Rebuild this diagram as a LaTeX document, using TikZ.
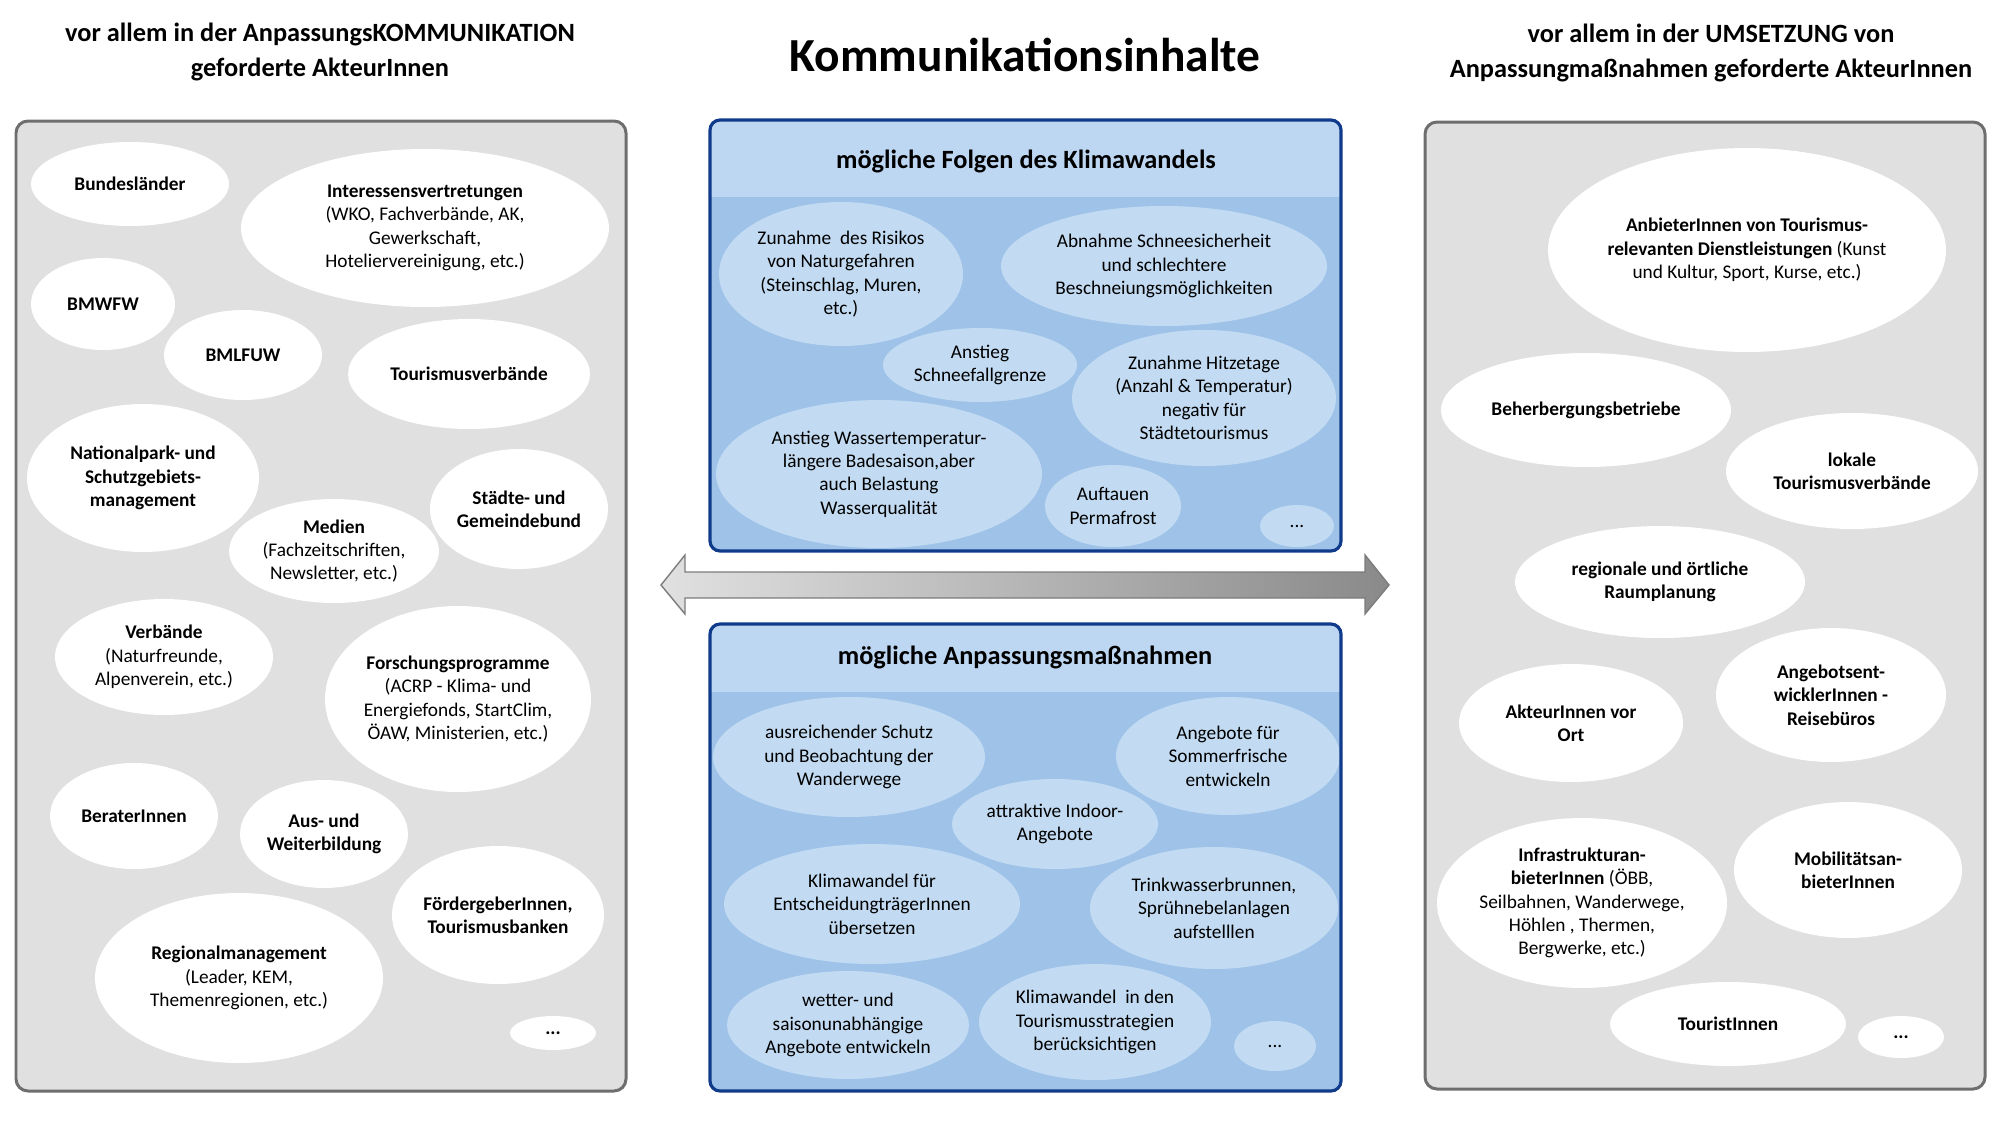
\documentclass[tikz,border=0pt]{standalone}
\usepackage{fontspec}
\setmainfont{Carlito}
\usepackage{tikz}
\usetikzlibrary{shapes.geometric}
\definecolor{kastengrau}{rgb}{0.88,0.88,0.88}
\definecolor{rahmengrau}{rgb}{0.43,0.43,0.43}
\definecolor{rahmenblau}{rgb}{0.06,0.23,0.54}
\definecolor{kopfblau}{rgb}{0.74,0.84,0.95}
\definecolor{feldblau}{rgb}{0.62,0.76,0.91}
\definecolor{blasenblau}{rgb}{0.76,0.86,0.95}
\definecolor{pfeilhell}{rgb}{0.88,0.88,0.88}
\definecolor{pfeildunkel}{rgb}{0.54,0.54,0.54}
\tikzset{
  kasten/.style={
    rounded corners=0.24cm,
    draw=rahmengrau,
    fill=kastengrau,
    line width=1.7pt
  },
  feldrand/.style={
    rounded corners=0.2cm,
    draw=rahmenblau,
    line width=1.8pt
  },
  blase/.style={
    ellipse,
    fill=white,
    inner sep=-20pt,
    align=center,
    font=\fontsize{11}{13.3}\selectfont\bfseries
  },
  blaseblau/.style={
    blase,
    fill=blasenblau,
    font=\fontsize{11}{13.3}\selectfont
  },
  kopf/.style={
    align=center,
    font=\fontsize{15}{19.8}\selectfont\bfseries
  },
  feldtitel/.style={
    font=\fontsize{15}{18}\selectfont\bfseries
  },
  pfeil/.style={
    draw=pfeildunkel!90!black,
    line width=0.8pt,
    left color=pfeilhell,
    right color=pfeildunkel
  }
}

\begin{document}
\begin{tikzpicture}[x=0.02cm, y=-0.02cm]
\useasboundingbox (0,0) rectangle (2000,1130);

% Ueberschriften
\node[kopf] (kopflinks) at (320,52) {vor allem in der AnpassungsKOMMUNIKATION\\geforderte AkteurInnen};
\node[font=\fontsize{27}{32}\selectfont\bfseries] (titel) at (1025,55) {Kommunikationsinhalte};
\node[kopf] (kopfrechts) at (1711,53) {vor allem in der UMSETZUNG von\\Anpassungmaßnahmen geforderte AkteurInnen};

% linke Spalte
\draw[kasten] (16,121) rectangle (626,1091);
\node[blase, minimum width=3.96cm, minimum height=1.68cm] (laender) at (130,184) {Bundesländer};
\node[blase, minimum width=7.36cm, minimum height=3.16cm] (interessen) at (425,228) {Interessensvertretungen\\\mdseries(WKO, Fachverbände, AK,\\\mdseries Gewerkschaft,\\\mdseries Hoteliervereinigung, etc.)};
\node[blase, minimum width=2.88cm, minimum height=1.84cm] (bmwfw) at (103,304) {BMWFW};
\node[blase, minimum width=3.16cm, minimum height=1.80cm] (bmlfuw) at (243,355) {BMLFUW};
\node[blase, minimum width=4.84cm, minimum height=2.20cm] (tvb) at (469,374) {Tourismusverbände};
\node[blase, minimum width=4.64cm, minimum height=2.96cm] (nationalpark) at (143,478) {Nationalpark- und\\Schutzgebiets-\\management};
\node[blase, minimum width=4.20cm, minimum height=2.08cm] (medien) at (334,551) {Medien\\\mdseries(Fachzeitschriften,\\\mdseries Newsletter, etc.)};
\node[blase, minimum width=3.56cm, minimum height=2.40cm] (staedte) at (519,509) {Städte- und\\Gemeindebund};
\node[blase, minimum width=4.36cm, minimum height=2.32cm] (verbaende) at (164,657) {Verbände\\\mdseries(Naturfreunde,\\\mdseries Alpenverein, etc.)};
\node[blase, minimum width=5.32cm, minimum height=3.72cm] (forschung) at (458,699) {Forschungsprogramme\\\mdseries(ACRP - Klima- und\\\mdseries Energiefonds, StartClim,\\\mdseries ÖAW, Ministerien, etc.)};
\node[blase, minimum width=3.36cm, minimum height=2.12cm] (berater) at (134,816) {BeraterInnen};
\node[blase, minimum width=3.36cm, minimum height=2.16cm] (bildung) at (324,834) {Aus- und\\Weiterbildung};
\node[blase, minimum width=4.24cm, minimum height=2.76cm] (foerder) at (498,915) {FördergeberInnen,\\Tourismusbanken};
\node[blase, minimum width=5.76cm, minimum height=3.40cm] (regional) at (239,978) {Regionalmanagement\\\mdseries(Leader, KEM,\\\mdseries Themenregionen, etc.)};
\node[blase, minimum width=1.72cm, minimum height=0.68cm] (weiterL) at (553,1033) {...};

% mittlere Spalte oben
\begin{scope}
\clip[rounded corners=0.2cm] (710,120) rectangle (1341,551);
\fill[feldblau] (710,120) rectangle (1341,551);
\fill[kopfblau] (710,120) rectangle (1341,197);
\node[blaseblau, minimum width=4.88cm, minimum height=2.88cm] (risiko) at (841,274) {Zunahme\ \ des Risikos\\von Naturgefahren\\(Steinschlag, Muren,\\etc.)};
\node[blaseblau, minimum width=6.52cm, minimum height=2.40cm] (schnee) at (1164,266) {Abnahme Schneesicherheit\\und schlechtere\\Beschneiungsmöglichkeiten};
\node[blaseblau, minimum width=3.88cm, minimum height=1.48cm] (fallgrenze) at (980,365) {Anstieg\\Schneefallgrenze};
\node[blaseblau, minimum width=5.28cm, minimum height=2.72cm] (hitze) at (1204,398) {Zunahme Hitzetage\\(Anzahl \& Temperatur)\\negativ für\\Städtetourismus};
\node[blaseblau, minimum width=6.52cm, minimum height=2.96cm] (wasser) at (879,474) {Anstieg Wassertemperatur-\\längere Badesaison,aber\\auch Belastung\\Wasserqualität};
\node[blaseblau, minimum width=2.72cm, minimum height=1.64cm] (permafrost) at (1113,506) {Auftauen\\Permafrost};
\node[blaseblau, minimum width=1.48cm, minimum height=0.84cm] (weiterO) at (1297,526) {...};
\end{scope}
\draw[feldrand] (710,120) rectangle (1341,551);
\node[feldtitel] (folgen) at (1026,161) {mögliche Folgen des Klimawandels};

% Doppelpfeil
\shade[pfeil] (661,585) -- (685,555) -- (685,572) -- (1365,572) -- (1365,555) -- (1389,585)
  -- (1365,614) -- (1365,598) -- (685,598) -- (685,614) -- cycle;

% mittlere Spalte unten
\begin{scope}
\clip[rounded corners=0.2cm] (710,624) rectangle (1341,1091);
\fill[feldblau] (710,624) rectangle (1341,1091);
\fill[kopfblau] (710,624) rectangle (1341,692);
\node[blaseblau, minimum width=5.44cm, minimum height=2.40cm] (schutz) at (849,757) {ausreichender Schutz\\und Beobachtung der\\Wanderwege};
\node[blaseblau, minimum width=4.48cm, minimum height=2.36cm] (sommer) at (1228,756) {Angebote für\\Sommerfrische\\entwickeln};
\node[blaseblau, minimum width=4.12cm, minimum height=1.80cm] (indoor) at (1055,824) {attraktive Indoor-\\Angebote};
\node[blaseblau, minimum width=5.92cm, minimum height=2.40cm] (entscheid) at (872,904) {Klimawandel für\\EntscheidungträgerInnen\\übersetzen};
\node[blaseblau, minimum width=4.96cm, minimum height=2.44cm] (trinkwasser) at (1214,908) {Trinkwasserbrunnen,\\Sprühnebelanlagen\\aufstelllen};
\node[blaseblau, minimum width=4.84cm, minimum height=2.16cm] (saison) at (848,1025) {wetter- und\\saisonunabhängige\\Angebote entwickeln};
\node[blaseblau, minimum width=4.64cm, minimum height=2.32cm] (strategie) at (1095,1022) {Klimawandel\ \ in den\\Tourismusstrategien\\berücksichtigen};
\node[blaseblau, minimum width=1.64cm, minimum height=1.00cm] (weiterU) at (1275,1046) {...};
\end{scope}
\draw[feldrand] (710,624) rectangle (1341,1091);
\node[feldtitel] (massnahmen) at (1025,657) {mögliche Anpassungsmaßnahmen};

% rechte Spalte
\draw[kasten] (1425,122) rectangle (1985,1089);
\node[blase, minimum width=7.96cm, minimum height=4.08cm] (anbieter) at (1747,250) {AnbieterInnen von Tourismus-\\relevanten Dienstleistungen {\mdseries(Kunst}\\\mdseries und Kultur, Sport, Kurse, etc.)};
\node[blase, minimum width=5.80cm, minimum height=2.28cm] (beherbergung) at (1586,410) {Beherbergungsbetriebe};
\node[blase, minimum width=5.04cm, minimum height=2.32cm] (lokal) at (1852,471) {lokale\\Tourismusverbände};
\node[blase, minimum width=5.80cm, minimum height=2.24cm] (raum) at (1660,582) {regionale und örtliche\\Raumplanung};
\node[blase, minimum width=4.48cm, minimum height=2.36cm] (vorort) at (1571,723) {AkteurInnen vor\\Ort};
\node[blase, minimum width=4.60cm, minimum height=2.68cm] (reise) at (1831,695) {Angebotsent-\\wicklerInnen -\\Reisebüros};
\node[blase, minimum width=5.80cm, minimum height=3.40cm] (infra) at (1582,903) {Infrastrukturan-\\bieterInnen {\mdseries(ÖBB,}\\\mdseries Seilbahnen, Wanderwege,\\\mdseries Höhlen , Thermen,\\\mdseries Bergwerke, etc.)};
\node[blase, minimum width=4.56cm, minimum height=2.72cm] (mobil) at (1848,870) {Mobilitätsan-\\bieterInnen};
\node[blase, minimum width=4.72cm, minimum height=1.68cm] (touristen) at (1728,1024) {TouristInnen};
\node[blase, minimum width=1.72cm, minimum height=0.84cm] (weiterR) at (1901,1037) {...};
\end{tikzpicture}
\end{document}
